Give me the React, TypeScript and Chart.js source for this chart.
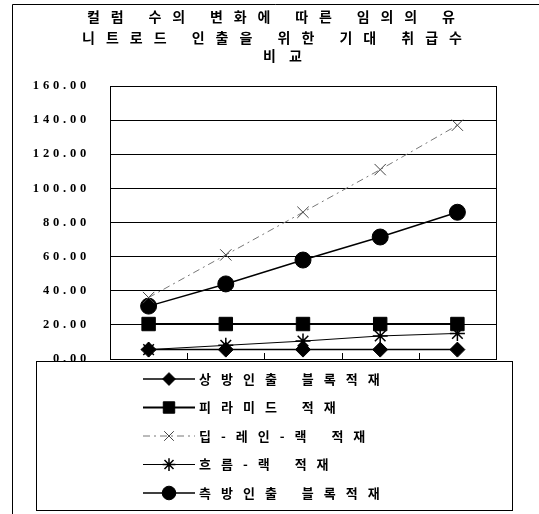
import React, { useEffect, useRef } from 'react';
import { Chart, registerables } from 'chart.js';
import { drawPoint } from 'chart.js/helpers';

Chart.register(...registerables);

// ---- data ----
const titleLines = ['컬럼 수의 변화에 따른 임의의 유', '니트로드 인출을 위한 기대 취급수', '비교'];
const categories = ['1', '2', '3', '4', '5'];
const seriesNames = ['상방인출 블록적재', '피라미드 적재', '딥-레인-랙 적재', '흐름-랙 적재', '측방인출 블록적재'];
const topBlock = [5.5, 5.5, 5.5, 5.5, 5.5];
const pyramid = [20.5, 20.5, 20.5, 20.5, 20.5];
const deepLane = [36, 61, 86, 111, 137];
const flowRack = [5.5, 8, 10.5, 13.5, 15];
const sideBlock = [31, 44, 58, 71.5, 86];
const yMin = 0;
const yMax = 160;
const yStep = 20;

// ---- layout constants ----
const W = 539;
const H = 514;
const TITLE_BOXES: [number, number, number][] = [
  [87, 455, 16.5],
  [82, 462, 37.5],
  [263, 302, 56],
];
const LEGEND = { x: 36.5, y: 361.5, w: 476, h: 149, lineX0: 143, lineX1: 195, markX: 169, textX: 199, row0: 379, rowStep: 28.5 };

const framePlugin = {
  id: 'frame',
  beforeDraw(chart: any) {
    const ctx = chart.ctx;
    ctx.letterSpacing = '3.8px';
  },
  afterDraw(chart: any) {
    const ctx = chart.ctx;
    ctx.save();
    ctx.letterSpacing = '0px';
    const { left, right, top, bottom } = chart.chartArea;
    ctx.strokeStyle = '#000';
    ctx.lineWidth = 1;
    // plot border
    ctx.strokeRect(Math.round(left) + 0.5, Math.round(top) + 0.5, Math.round(right - left), Math.round(bottom - top));
    // inside tick marks at category boundaries
    const xs = chart.scales.x;
    ctx.beginPath();
    for (let i = 0; i < categories.length - 1; i++) {
      const bx = Math.round((xs.getPixelForValue(i) + xs.getPixelForValue(i + 1)) / 2) + 0.5;
      ctx.moveTo(bx, bottom);
      ctx.lineTo(bx, bottom - 6);
    }
    ctx.stroke();
    // outer frame
    ctx.beginPath();
    ctx.moveTo(12.5, H);
    ctx.lineTo(12.5, 4.5);
    ctx.lineTo(W, 4.5);
    ctx.stroke();
    ctx.restore();
  },
};

const legendPlugin = {
  id: 'boxLegend',
  afterDraw(chart: any) {
    const ctx = chart.ctx;
    ctx.save();
    ctx.letterSpacing = '0px';
    ctx.fillStyle = '#fff';
    ctx.fillRect(LEGEND.x, LEGEND.y, LEGEND.w, LEGEND.h);
    ctx.strokeStyle = '#000';
    ctx.lineWidth = 1;
    ctx.strokeRect(LEGEND.x, LEGEND.y, LEGEND.w, LEGEND.h);
    chart.data.datasets.forEach((ds: any, i: number) => {
      const y = LEGEND.row0 + i * LEGEND.rowStep;
      ctx.save();
      ctx.strokeStyle = ds.borderColor;
      ctx.lineWidth = ds.borderWidth;
      ctx.setLineDash(ds.borderDash || []);
      ctx.beginPath();
      ctx.moveTo(LEGEND.lineX0, y);
      ctx.lineTo(LEGEND.lineX1, y);
      ctx.stroke();
      ctx.setLineDash([]);
      ctx.fillStyle = ds.pointBackgroundColor;
      ctx.strokeStyle = ds.pointBorderColor;
      ctx.lineWidth = ds.pointBorderWidth;
      drawPoint(ctx, { pointStyle: ds.pointStyle, radius: ds.pointRadius * 0.85, rotation: 0, borderWidth: ds.pointBorderWidth }, LEGEND.markX, y);
      ctx.restore();
      ctx.save();
      ctx.fillStyle = '#000';
      ctx.font = 'bold 13px "Noto Sans CJK KR"';
      ctx.textBaseline = 'middle';
      ctx.textAlign = 'left';
      ctx.letterSpacing = '10px';
      (ctx as any).wordSpacing = '2px';
      ctx.fillText(ds.label, LEGEND.textX, y);
      ctx.restore();
    });
    ctx.restore();
  },
};

const titlePlugin = {
  id: 'spacedTitle',
  afterDraw(chart: any) {
    const ctx = chart.ctx;
    ctx.save();
    ctx.font = 'bold 14px "Noto Sans CJK KR"';
    ctx.fillStyle = '#000';
    ctx.textBaseline = 'middle';
    ctx.textAlign = 'left';
    titleLines.forEach((text, i) => {
      const [x0, x1, y] = TITLE_BOXES[i];
      ctx.letterSpacing = '0px';
      const w = ctx.measureText(text).width;
      const n = Array.from(text).length;
      const ls = (x1 - x0 - w) / Math.max(1, n - 1);
      ctx.letterSpacing = ls + 'px';
      ctx.fillText(text, x0, y);
    });
    ctx.letterSpacing = '0px';
    ctx.restore();
  },
};

export default function App() {
  const ref = useRef<HTMLCanvasElement | null>(null);
  useEffect(() => {
    if (!ref.current) return;
    const chart = new Chart(ref.current, {
      type: 'line',
      data: {
        labels: categories,
        datasets: [
          {
            label: seriesNames[0], data: topBlock,
            borderColor: '#000', borderWidth: 1.5,
            pointStyle: 'rectRot', pointRadius: 7.5,
            pointBackgroundColor: '#000', pointBorderColor: '#000', pointBorderWidth: 1,
          },
          {
            label: seriesNames[1], data: pyramid,
            borderColor: '#000', borderWidth: 2,
            pointStyle: 'rect', pointRadius: 9.5,
            pointBackgroundColor: '#000', pointBorderColor: '#000', pointBorderWidth: 1,
          },
          {
            label: seriesNames[2], data: deepLane,
            borderColor: '#777', borderWidth: 1, borderDash: [7, 4, 2, 4],
            pointStyle: 'crossRot', pointRadius: 8,
            pointBackgroundColor: '#444', pointBorderColor: '#444', pointBorderWidth: 1,
          },
          {
            label: seriesNames[3], data: flowRack,
            borderColor: '#000', borderWidth: 1,
            pointStyle: 'star', pointRadius: 7.5,
            pointBackgroundColor: '#000', pointBorderColor: '#000', pointBorderWidth: 1.5,
          },
          {
            label: seriesNames[4], data: sideBlock,
            borderColor: '#000', borderWidth: 1.5,
            pointStyle: 'circle', pointRadius: 8,
            pointBackgroundColor: '#000', pointBorderColor: '#000', pointBorderWidth: 1,
          },
        ],
      } as any,
      options: {
        responsive: false,
        animation: false,
        devicePixelRatio: 1,
        layout: { padding: { left: 0, top: 86, right: W - 496, bottom: H - 359 } },
        plugins: {
          legend: { display: false },
          title: { display: false },
          tooltip: { enabled: false },
        },
        scales: {
          x: {
            display: false,
            offset: true,
          },
          y: {
            min: yMin,
            max: yMax,
            afterFit: (scale: any) => { scale.width = 110; },
            ticks: {
              stepSize: yStep,
              padding: 20,
              color: '#000',
              font: { family: '"Liberation Serif"', weight: 'bold', size: 12.5 },
              callback: (v: any) => Number(v).toFixed(2),
            },
            grid: { color: '#000', lineWidth: 1, drawTicks: false },
            border: { display: true, color: '#000', width: 1 },
          },
        },
      } as any,
      plugins: [framePlugin, legendPlugin, titlePlugin],
    });
    return () => chart.destroy();
  }, []);
  return (
    <div style={{ position: 'fixed', left: 0, top: 0, width: W, height: H, background: '#fff' }}>
      <canvas ref={ref} width={W} height={H} style={{ display: 'block' }} />
    </div>
  );
}
